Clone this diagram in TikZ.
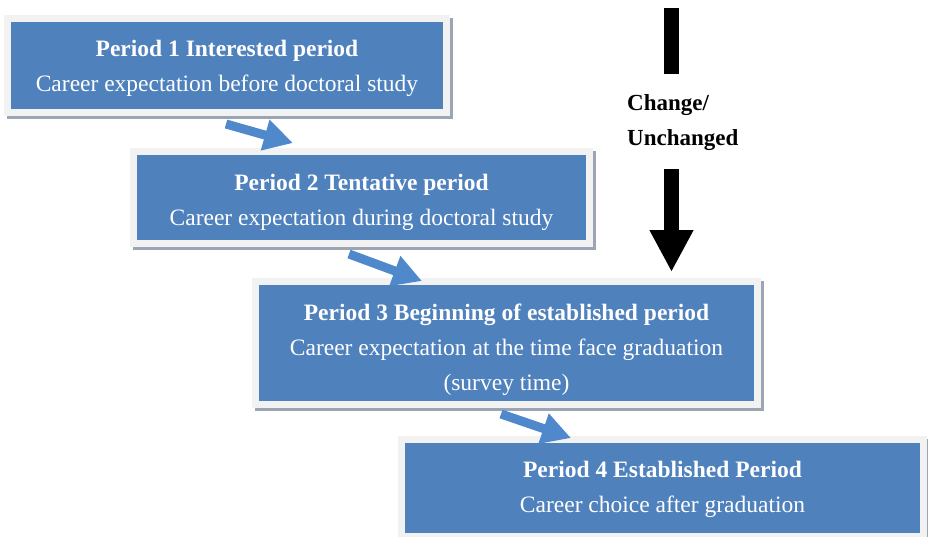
\documentclass[tikz,border=0pt]{standalone}
\usepackage{fontspec}
\setmainfont{Liberation Serif}
\usetikzlibrary{arrows.meta}
\definecolor{boxblue}{RGB}{79,129,189}
\definecolor{arrowblue}{RGB}{80,136,204}
\definecolor{framegray}{RGB}{242,242,242}
\definecolor{shadowgray}{RGB}{155,165,179}
\begin{document}
\begin{tikzpicture}[
  x=1pt, y=-1pt,
  period/.style={fill=boxblue, inner sep=0pt,
    preaction={draw=shadowgray, line width=14pt, transform canvas={shift={(2.5pt,-2.5pt)}}},
    preaction={draw=framegray, line width=14pt}},
  period text/.style={text=white, align=center, inner sep=0pt,
    font=\fontsize{23.5}{35}\selectfont},
  step arrow/.style={draw=arrowblue, line width=9pt, -{Triangle[length=29pt, width=30pt]}},
  change arrow/.style={draw=black, line width=15pt}
]
  \useasboundingbox (0,0) rectangle (928,536);

  % Period 1
  \node[period, minimum width=432pt, minimum height=87pt] (p1) at (227,65.5) {};
  \node[period text] (t1) at (227,68.5)
    {\textbf{Period 1 Interested period}\\Career expectation before doctoral study};

  % Period 2
  \node[period, minimum width=449pt, minimum height=85pt] (p2) at (361.5,197.5) {};
  \node[period text] (t2) at (361.5,202.5)
    {\textbf{Period 2 Tentative period}\\Career expectation during doctoral study};

  % Period 3
  \node[period, minimum width=495pt, minimum height=116pt] (p3) at (506.5,343) {};
  \node[period text] (t3) at (506.5,349.5)
    {\textbf{Period 3 Beginning of established period}\\Career expectation at the time face graduation\\(survey time)};

  % Period 4
  \node[period, minimum width=515pt, minimum height=90pt] (p4) at (662.5,488) {};
  \node[period text] (t4) at (662.5,489)
    {\textbf{Period 4 Established Period}\\Career choice after graduation};

  % arrows between the periods
  \coordinate (a1s) at (226,124);
  \coordinate (a1e) at (293,143);
  \coordinate (a2s) at (349,254);
  \coordinate (a2e) at (422,281);
  \coordinate (a3s) at (501,414);
  \coordinate (a3e) at (571,438);
  \draw[step arrow] (a1s) -- (a1e);
  \draw[step arrow] (a2s) -- (a2e);
  \draw[step arrow] (a3s) -- (a3e);

  % Change / Unchanged
  \node[anchor=west, align=left, inner sep=0pt, font=\fontsize{23}{35}\selectfont\bfseries] (chg) at (627,123)
    {Change/\\Unchanged};
  \coordinate (c1) at (671.5,8);
  \coordinate (c2) at (671.5,74);
  \coordinate (c3) at (671.5,169);
  \coordinate (c4) at (671.5,272);
  \draw[change arrow] (c1) -- (c2);
  \draw[change arrow, -{Triangle[length=42pt, width=41pt]}] (c3) -- (c4);
\end{tikzpicture}
\end{document}
